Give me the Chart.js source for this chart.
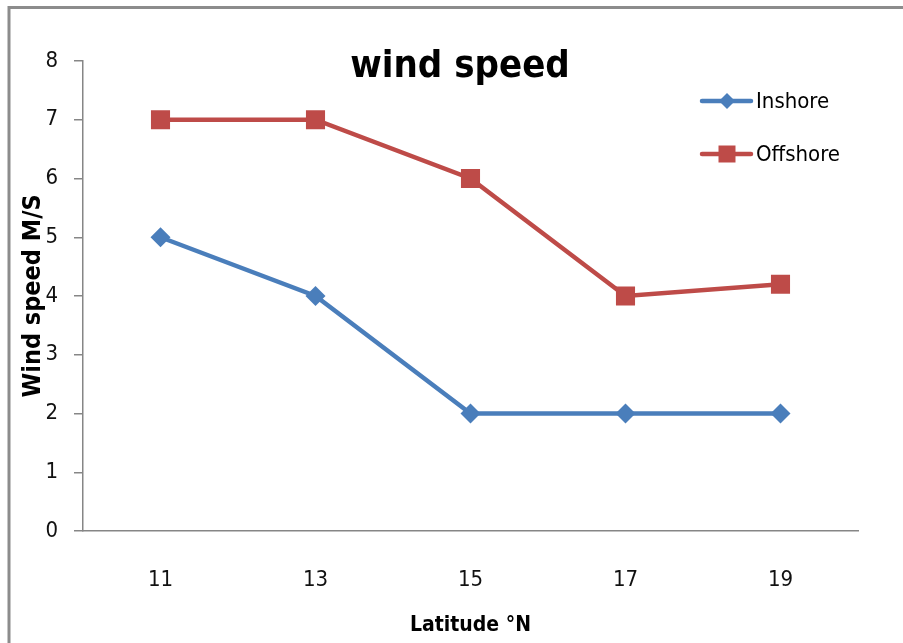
<!DOCTYPE html>
<html>
<head>
<meta charset="utf-8">
<title>wind speed</title>
<script src="https://cdn.jsdelivr.net/npm/chart.js@4/dist/chart.umd.min.js"></script>
<style>
  html, body { margin: 0; padding: 0; background: #ffffff; }
  #wrap { width: 903px; height: 643px; }
</style>
</head>
<body>
<div id="wrap"><canvas id="c" width="903" height="643"></canvas></div>
<script>
// Latitude (°N) categories and wind speed (m/s) per site type
const latitudes = ['11', '13', '15', '17', '19'];
const inshore = [5, 4, 2, 2, 2];
const offshore = [7, 7, 6, 4, 4.2];
const seriesNames = ['Inshore', 'Offshore'];
const chartTitle = 'wind speed';
const yTitle = 'Wind speed M/S';
const xTitle = 'Latitude °N';

const BLUE = '#4A7EBB';
const RED = '#BE4B48';
const AXIS = '#868686';
const FONT = "'Liberation Sans Narrow', 'DejaVu Sans Condensed', 'Open Sans', sans-serif";

// Frame lines, title and inline legend
const decorations = {
  id: 'decorations',
  afterDraw(chart) {
    const ctx = chart.ctx;
    ctx.save();
    // outer frame (top and left edges)
    ctx.strokeStyle = '#8c8c8c';
    ctx.lineWidth = 3;
    ctx.beginPath();
    ctx.moveTo(9, 643);
    ctx.lineTo(9, 7.5);
    ctx.lineTo(903, 7.5);
    ctx.stroke();

    // title
    ctx.fillStyle = '#000';
    ctx.font = "bold 38px " + FONT;
    ctx.textAlign = 'center';
    ctx.textBaseline = 'middle';
    ctx.fillText(chartTitle, 460, 67);

    // legend
    const items = [
      { name: seriesNames[0], color: BLUE, shape: 'diamond', y: 101 },
      { name: seriesNames[1], color: RED, shape: 'square', y: 154 }
    ];
    ctx.font = "22px " + FONT;
    ctx.textAlign = 'left';
    items.forEach(it => {
      ctx.strokeStyle = it.color;
      ctx.fillStyle = it.color;
      ctx.lineWidth = 4.5;
      ctx.lineCap = 'round';
      ctx.beginPath();
      ctx.moveTo(702, it.y);
      ctx.lineTo(751, it.y);
      ctx.stroke();
      ctx.beginPath();
      if (it.shape === 'diamond') {
        ctx.moveTo(727, it.y - 8);
        ctx.lineTo(735, it.y);
        ctx.lineTo(727, it.y + 8);
        ctx.lineTo(719, it.y);
        ctx.closePath();
      } else {
        ctx.rect(718.5, it.y - 8.5, 17, 17);
      }
      ctx.fill();
      ctx.fillStyle = '#000';
      ctx.fillText(it.name, 756, it.y + 1);
    });
    ctx.restore();
  }
};

new Chart(document.getElementById('c'), {
  type: 'line',
  data: {
    labels: latitudes,
    datasets: [
      {
        label: seriesNames[0],
        data: inshore,
        borderColor: BLUE,
        backgroundColor: BLUE,
        borderWidth: 4.5,
        pointStyle: 'rectRot',
        pointRadius: 10,
        pointHoverRadius: 10,
        pointBorderWidth: 0,
        tension: 0
      },
      {
        label: seriesNames[1],
        data: offshore,
        borderColor: RED,
        backgroundColor: RED,
        borderWidth: 4.5,
        pointStyle: 'rect',
        pointRadius: 13.5,
        pointHoverRadius: 13.5,
        pointBorderWidth: 0,
        tension: 0
      }
    ]
  },
  options: {
    responsive: false,
    animation: false,
    devicePixelRatio: 1,
    layout: { padding: { left: 0, top: 61, right: 45, bottom: 0 } },
    plugins: {
      legend: { display: false },
      title: { display: false },
      tooltip: { enabled: false }
    },
    scales: {
      x: {
        type: 'category',
        offset: true,
        afterFit(scale) { scale.height = 112; },
        grid: { display: true, drawOnChartArea: false, drawTicks: false },
        border: { display: true, color: AXIS, width: 1.5 },
        ticks: {
          color: '#111',
          padding: 36,
          font: { family: FONT, size: 22 }
        },
        title: {
          display: true,
          text: xTitle,
          color: '#000',
          font: { family: FONT, size: 21, weight: 'bold' },
          padding: { top: 0, bottom: 5 }
        }
      },
      y: {
        min: 0,
        max: 8,
        afterFit(scale) { scale.width = 83; },
        ticks: {
          stepSize: 1,
          color: '#111',
          padding: 16,
          font: { family: FONT, size: 22 }
        },
        grid: {
          display: true,
          drawOnChartArea: false,
          drawTicks: true,
          tickLength: 9,
          color: AXIS,
          lineWidth: 1.5
        },
        border: { display: true, color: AXIS, width: 1.5 },
        title: {
          display: true,
          text: yTitle,
          color: '#000',
          font: { family: FONT, size: 25, weight: 'bold' },
          padding: { top: 18, bottom: 0 }
        }
      }
    }
  },
  plugins: [decorations]
});
</script>
</body>
</html>
